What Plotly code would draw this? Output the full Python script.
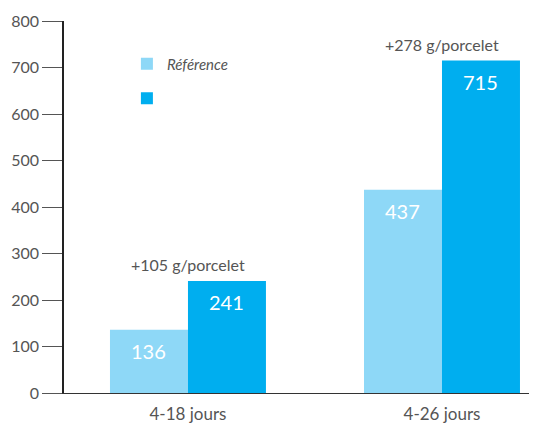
import plotly.graph_objects as go

categories = ["4-18 jours", "4-26 jours"]
reference_values = [136, 437]
product_values = [241, 715]
gain_labels = ["+105 g/porcelet", "+278 g/porcelet"]
y_ticks = [0, 100, 200, 300, 400, 500, 600, 700, 800]
series_names = ["Référence", ""]

LIGHT = "#8ED8F7"
DARK = "#00AEEF"
TEXT = "#555555"
FONT = "Lato"

fig = go.Figure()
fig.add_trace(go.Bar(x=categories, y=reference_values, name=series_names[0],
                     marker=dict(color=LIGHT, line=dict(width=0)), legendgroup="a"))
fig.add_trace(go.Bar(x=categories, y=product_values, name=series_names[1],
                     marker=dict(color=DARK, line=dict(width=0)), legendgroup="b"))

annotations = []
for cat, rv, pv, g in zip(categories, reference_values, product_values, gain_labels):
    annotations.append(dict(x=cat, y=rv, xref="x", yref="y", text=str(rv), showarrow=False,
                            xshift=-39, yshift=-21, yanchor="middle",
                            font=dict(family=FONT, size=20, color="white")))
    annotations.append(dict(x=cat, y=pv, xref="x", yref="y", text=str(pv), showarrow=False,
                            xshift=39, yshift=-21, yanchor="middle",
                            font=dict(family=FONT, size=20, color="white")))
    annotations.append(dict(x=cat, y=max(rv, pv), xref="x", yref="y", text=g, showarrow=False,
                            yshift=16, yanchor="middle",
                            font=dict(family=FONT, size=16, color=TEXT)))

# The page body has an 8px default margin, so the figure is sized 8px smaller
fig.update_layout(
    width=529, height=420,
    margin=dict(l=56, r=0, t=13, b=35),
    paper_bgcolor="white", plot_bgcolor="white",
    barmode="group", bargap=0.386, bargroupgap=0,
    font=dict(family=FONT, color=TEXT),
    legend=dict(x=0.133, y=0.929, xanchor="left", yanchor="top",
                font=dict(family=FONT, size=15, color=TEXT, style="italic"),
                traceorder="grouped", tracegroupgap=12, bgcolor="rgba(0,0,0,0)"),
    annotations=annotations,
    xaxis=dict(type="category", range=[-0.488, 1.374], showline=True, linecolor="#333333",
               linewidth=1, ticks="", showgrid=False, zeroline=False,
               tickfont=dict(family=FONT, size=17, color=TEXT), ticklabelstandoff=6),
    yaxis=dict(range=[0, 800], tickvals=y_ticks, ticktext=[str(v) for v in y_ticks],
               showline=True, linecolor="#222222", linewidth=1.5, ticks="outside",
               ticklen=20, tickwidth=1.2, tickcolor="#555555", showgrid=False, zeroline=False,
               tickfont=dict(family=FONT, size=16, color=TEXT)),
)

fig.write_html("out.html")
